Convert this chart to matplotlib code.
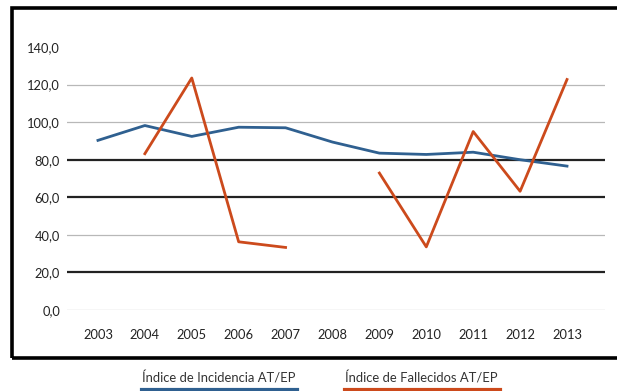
import matplotlib
matplotlib.use("Agg")
import matplotlib.pyplot as plt
import numpy as np
from matplotlib.lines import Line2D
from matplotlib.patches import Rectangle

years = [2003, 2004, 2005, 2006, 2007, 2008, 2009, 2010, 2011, 2012, 2013]
incidencia = [90.3, 98.2, 92.4, 97.3, 97.0, 89.4, 83.5, 82.8, 84.0, 80.0, 76.6]
fallecidos = [np.nan, 83.2, 123.5, 36.3, 33.3, np.nan, 72.9, 33.6, 95.0, 63.2, 122.7]
yticks = [0, 20, 40, 60, 80, 100, 120, 140]
labels = ["Índice de Incidencia AT/EP", "Índice de Fallecidos AT/EP"]

blue = "#2f6090"
orange = "#cc4a1c"

plt.rcParams['font.family'] = ['Lato', 'DejaVu Sans']

W, H = 617, 391
fig = plt.figure(figsize=(W / 100, H / 100), dpi=100)
ax = fig.add_axes([67 / W, (H - 310) / H, (605 - 67) / W, (310 - 47) / H])

ax.set_ylim(0, 140)
ax.set_xlim(2003 - 0.66, 2013 + 0.81)

for v in yticks[:-1]:
    if v in (20, 60, 80):
        ax.axhline(v, color="#222222", lw=1.6, zorder=1)
    else:
        ax.axhline(v, color="#b8b8b8", lw=0.9, zorder=1)

ax.plot(years, incidencia, color=blue, lw=2.0, zorder=3)
ax.plot(years, fallecidos, color=orange, lw=2.0, zorder=4)

ax.set_yticks(yticks)
ax.set_yticklabels([f"{v:.1f}".replace(".", ",") for v in yticks], fontsize=9.3, color="#222222")
ax.set_xticks(years)
ax.set_xticklabels([str(y) for y in years], fontsize=9.3, color="#222222")
ax.tick_params(axis="both", length=0)
ax.tick_params(axis="x", pad=14)
ax.tick_params(axis="y", pad=5)
for s in ax.spines.values():
    s.set_visible(False)

# outer box
fig.patches.append(Rectangle((12 / W, (H - 358) / H), (640 - 12) / W, (358 - 8) / H,
                             transform=fig.transFigure, fill=False, edgecolor="black",
                             lw=2.6, clip_on=False))

# legend below the box
fig.text(142 / W, (H - 378) / H, labels[0], fontsize=9.4, color="#333333", va="center", ha="left")
fig.text(345 / W, (H - 378) / H, labels[1], fontsize=9.4, color="#333333", va="center", ha="left")
fig.add_artist(Line2D([142 / W, 297 / W], [(H - 390) / H] * 2, color=blue, lw=3, transform=fig.transFigure))
fig.add_artist(Line2D([345 / W, 500 / W], [(H - 390) / H] * 2, color=orange, lw=3, transform=fig.transFigure))

fig.savefig("out.png", dpi=100)
